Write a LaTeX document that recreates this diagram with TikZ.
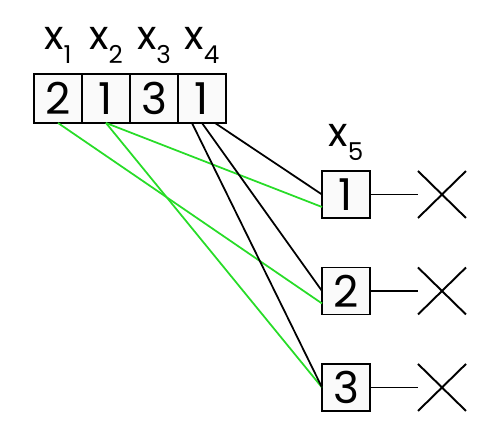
\documentclass[tikz,border=0pt]{standalone}
\usepackage{fontspec}
\setmainfont{Poppins}
\usetikzlibrary{positioning,shapes.misc}
\definecolor{linegreen}{RGB}{40,220,40}
\newcommand{\idx}[1]{\raisebox{-8pt}{\fontsize{14}{14}\selectfont #1}}
\tikzset{
  cell/.style={draw,line width=1.1pt,fill=black!2,minimum width=0.96cm,minimum height=0.98cm,inner sep=0pt,outer sep=0pt,font=\fontsize{25}{25}\selectfont},
  var/.style={font=\fontsize{23}{23}\selectfont,inner sep=0pt,label distance=0.2cm},
  kill/.style={cross out,draw,line width=1.1pt,minimum width=0.96cm,minimum height=0.94cm,inner sep=0pt,outer sep=0pt},
  rule/.style={black,line width=1pt},
  ok/.style={linegreen,line width=1pt}
}
\begin{document}
\begin{tikzpicture}[x=0.02cm,y=-0.02cm]
    \useasboundingbox (0,0) rectangle (500,438);
    \node[cell,label={[var]above:x\idx{1}}] (v1) at (58,98.5) {2};
    \node[cell,right=0pt of v1,label={[var]above:x\idx{2}}] (v2) {1};
    \node[cell,right=0pt of v2,label={[var]above:x\idx{3}}] (v3) {3};
    \node[cell,right=0pt of v3,label={[var]above:x\idx{4}}] (v4) {1};
    \node[cell,minimum height=0.94cm,label={[var]above:x\idx{5}}] (d1) at (346,194.5) {1};
    \node[cell,minimum height=0.94cm,below=0.99cm of d1] (d2) {2};
    \node[cell,minimum height=0.94cm,below=0.99cm of d2] (d3) {3};
    \foreach \i in {1,2,3} {
      \node[kill,right=0.96cm of d\i] (k\i) {};
      \draw[rule] (d\i) -- (k\i);
    }
    \draw[ok] (v1.south) -- ([yshift=-0.25cm]d2.west);
    \draw[ok] (v2.south) -- ([yshift=-0.25cm]d1.west);
    \draw[ok] (v2.south) -- (d3.west);
    \draw[rule] ([xshift=-0.2cm]v4.south) -- (d3.west);
    \draw[rule] (v4.south) -- (d2.west);
    \draw[rule] ([xshift=0.26cm]v4.south) -- (d1.west);
  \end{tikzpicture}
\end{document}
